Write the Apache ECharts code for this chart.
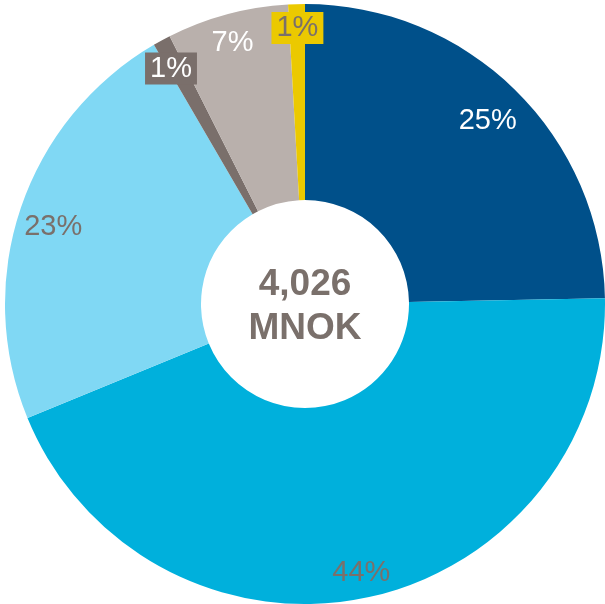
<!DOCTYPE html>
<html>
<head>
<meta charset="utf-8">
<script src="https://cdn.jsdelivr.net/npm/echarts@6/dist/echarts.min.js"></script>
<style>
  html, body { margin: 0; padding: 0; background: #fff; }
  #main { width: 605px; height: 604px; }
</style>
</head>
<body>
<div id="main"></div>
<script>
    // slice shares (percent of 4,026 MNOK), clockwise from 12 o'clock
    var categories = ['A', 'B', 'C', 'D', 'E', 'F'];
    var shares = [24.7, 44.1, 22.8, 0.95, 6.55, 0.9];
    var totalText = ['4,026', 'MNOK'];

    var sliceColors = ['#00508a', '#00b0dc', '#80d8f4', '#7a6f6b', '#b9b0ac', '#ebc900'];
    var labelColors = ['#ffffff', '#7a706b', '#7a706b', '#ffffff', '#ffffff', '#7a706b'];
    var labelBoxes = [null, null, null, '#7a6f6b', null, '#ebc900'];
    // small nudges so the labels sit where the original put them
    var labelNudge = [[-5, 8], [2, 7], [2, 9], [-6, 0], [-3, -2], [0, -8]];

    var cx = 305, cy = 304;
    var font = '"Liberation Sans", Arial, sans-serif';

    var ringData = categories.map(function (c, i) {
        return { name: c, value: shares[i], itemStyle: { color: sliceColors[i] } };
    });
    var labelData = categories.map(function (c, i) {
        var lbl = { color: labelColors[i], offset: labelNudge[i] };
        if (labelBoxes[i]) {
            lbl.backgroundColor = labelBoxes[i];
            lbl.padding = [2, 5, 1, 5];
        }
        return { name: c, value: shares[i], label: lbl };
    });

    var myChart = echarts.init(document.getElementById('main'));
    var option = {
        animation: false,
        series: [{
            type: 'pie',
            center: [cx, cy],
            radius: [104, 300],
            startAngle: 90,
            clockwise: true,
            silent: true,
            label: { show: false },
            labelLine: { show: false },
            data: ringData
        }, {
            /*透明的一层，只用来放百分比标签*/
            type: 'pie',
            center: [cx, cy],
            radius: [230, 300],
            startAngle: 90,
            clockwise: true,
            silent: true,
            itemStyle: { color: 'rgba(0,0,0,0)' },
            label: {
                show: true,
                position: 'inside',
                fontFamily: font,
                fontSize: 29,
                formatter: function (p) { return Math.round(p.percent) + '%'; }
            },
            labelLine: { show: false },
            data: labelData
        }],
        graphic: [{
            type: 'text',
            x: cx,
            y: cy + 3,
            style: {
                text: totalText.join('\n'),
                fill: '#7a706b',
                font: 'bold 37px ' + font,
                lineHeight: 44,
                align: 'center',
                verticalAlign: 'middle'
            }
        }]
    };
    myChart.setOption(option);
</script>
</body>
</html>
